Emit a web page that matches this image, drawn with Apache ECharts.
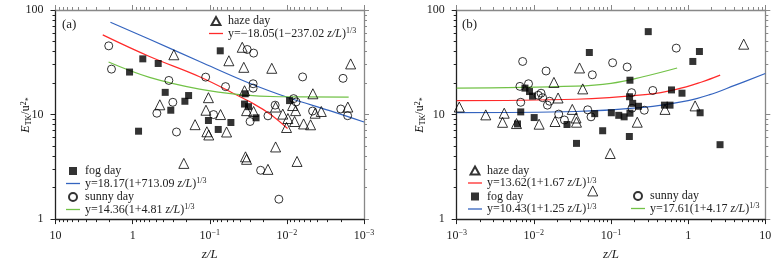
<!DOCTYPE html>
<html>
<head>
<meta charset="utf-8">
<script src="https://cdn.jsdelivr.net/npm/echarts@6/dist/echarts.min.js"></script>
<style>
html,body{margin:0;padding:0;background:#fff;}
#main{width:776px;height:266px;}
</style>
</head>
<body>
<div id="main"></div>
<script>
// panel (a): unstable side, x axis runs 10 -> 10^-3 (values are |z/L|)
var hazeA = [[0.292,37.3],[0.444,12.4],[0.155,8.0],[0.217,3.41],[0.0565,32.7],[0.0379,44.0],[0.0362,28.3],[0.104,14.5],
  [0.0354,16.9],[0.112,11.0],[0.0724,10.0],[0.109,6.84],[0.103,6.38],[0.0605,6.81],[0.0333,10.9],[0.027,10.7],
  [0.0344,3.94],[0.0333,3.73],[0.0157,27.7],[0.00149,30.5],[0.0046,15.8],[0.014,11.8],[0.00843,12.2],[0.0077,10.9],
  [0.0113,10.1],[0.0097,9.16],[0.00794,8.58],[0.00607,8.13],[0.00493,7.98],[0.0101,7.52],[0.014,4.9],[0.0043,10.3],
  [0.00358,10.7],[0.00162,11.8],[0.00738,3.56],[0.0176,2.99]];
var fogA = [[0.738,34.1],[0.466,30.8],[1.096,25.5],[0.378,16.3],[0.188,15.2],[0.210,13.4],[0.320,11.0],[0.838,6.93],
  [0.0731,40.7],[0.0347,15.8],[0.0354,12.6],[0.0314,11.9],[0.0251,9.31],[0.104,8.77],[0.0776,7.2],[0.0532,8.39],[0.00923,13.6]];
var sunnyA = [[2.04,45.4],[1.88,27.2],[0.339,21.2],[0.301,13.1],[0.485,10.3],[0.270,6.81],[0.0327,41.9],[0.0270,38.7],
  [0.113,22.8],[0.0624,18.5],[0.0274,19.7],[0.0274,17.9],[0.0893,10.0],[0.030,8.58],[0.00818,14.2],[0.0076,13.2],
  [0.00625,22.9],[0.00187,22.2],[0.0142,12.3],[0.0176,9.72],[0.00464,10.8],[0.002,11.3],[0.00163,9.75],[0.0219,2.93],[0.0127,1.55]];
var fitRedA = [[2.44,57.8],[0.604,35.9],[0.1355,23.0],[0.0411,14.9],[0.0305,13.3],[0.0168,10.2],[0.0098,7.36]];
var fitBlueA = [[1.94,76.3],[0.604,52.5],[0.1355,32.2],[0.0305,19.95],[0.00923,14.4],[0.00279,10.9],[0.001,8.48]];
var fitGreenA = [[2.05,31.8],[0.604,22.7],[0.1355,17.5],[0.0411,15.5],[0.01245,14.8],[0.00158,14.7]];

// panel (b): stable side, x axis 10^-3 -> 10
var hazeB = [[0.00108,11.8],[0.00238,9.93],[0.00413,10.3],[0.00393,8.43],[0.00596,8.2],[0.0117,8.09],[0.0182,20.3],
  [0.0206,14.4],[0.0188,8.58],[0.0315,11.2],[0.0352,9.27],[0.0357,8.45],[0.0391,27.9],[0.043,17.6],[0.219,8.45],
  [0.501,11.2],[1.23,12.1],[5.25,47.1],[0.0977,4.24],[0.058,1.86]];
var fogB = [[0.0524,39.2],[0.304,62.1],[1.40,40.1],[1.15,32.2],[0.176,21.3],[0.608,17.2],[0.832,16.0],[0.00767,17.9],
  [0.00879,16.6],[0.00962,15.0],[0.174,14.8],[0.191,12.8],[0.227,12.0],[0.493,12.3],[0.582,12.3],[1.43,10.4],
  [0.101,10.4],[0.126,9.83],[0.148,9.51],[0.176,10.3],[0.0615,10.2],[0.00676,10.6],[0.00614,8.13],[0.0101,9.36],
  [0.0269,8.03],[0.078,7.0],[0.173,6.17],[0.0357,5.3],[2.59,5.15]];
var sunnyB = [[0.00716,32.2],[0.0144,26.1],[0.0573,24.0],[0.105,31.3],[0.162,28.5],[0.701,43.2],[0.0066,18.6],
  [0.00853,19.7],[0.0124,16.0],[0.0114,15.3],[0.013,14.5],[0.016,13.4],[0.015,12.3],[0.00676,13.1],[0.021,10.1],
  [0.0249,8.87],[0.0499,11.1],[0.0551,9.51],[0.185,16.2],[0.348,17.0],[0.187,11.5],[0.270,11.0]];
var fitRedB = [[0.001,13.6],[0.035,14.0],[0.3,15.6],[0.7,17.4],[1.5,20.5],[2.6,23.8]];
var fitBlueB = [[0.001,10.45],[0.035,10.7],[0.26,11.7],[1,13.6],[1.86,15.4],[4,19.0],[10,24.7]];
var fitGreenB = [[0.001,17.9],[0.035,18.7],[0.1,19.9],[0.26,23.0],[0.72,27.9]];

// legend texts
var nameRedA = 'y=−18.05(1−237.02 z/L)^1/3';
var nameBlueA = 'y=18.17(1+713.09 z/L)^1/3';
var nameGreenA = 'y=14.36(1+4.81 z/L)^1/3';
var nameRedB = 'y=13.62(1+1.67 z/L)^1/3';
var nameBlueB = 'y=10.43(1+1.25 z/L)^1/3';
var nameGreenB = 'y=17.61(1+4.17 z/L)^1/3';

// minor ticks 2..9 in each decade
var minorX = [], minorY = [];
for (var e = -3; e <= 0; e++) {
  for (var k = 2; k <= 9; k++) {
    minorX.push(+(k * Math.pow(10, e)).toPrecision(3));
    if (e >= 0) minorY.push(k * Math.pow(10, e));
  }
}
for (var k2 = 2; k2 <= 9; k2++) minorY.push(k2 * 10);

var FONT = '"Liberation Serif", "Times New Roman", serif';
var BLUE = '#3464bf', RED = '#ff2a2a', GREEN = '#72c247';
var ICONS = {
  line: 'path://M0,0 L14,0 L14,1.3 L0,1.3 Z',
  'haze day': 'path://M5,0 L10,9 L0,9 Z',
  'fog day': 'path://M0,0 L8,0 L8,8 L0,8 Z',
  'sunny day': 'path://M0,4 A4,4 0 1,1 8,4 A4,4 0 1,1 0,4 Z'
};

var myChart = echarts.init(document.getElementById('main'));

var richTxt = {
  t: {fontFamily: FONT, fontSize: 12, color: '#222', lineHeight: 13},
  i: {fontFamily: FONT, fontSize: 12, color: '#222', fontStyle: 'italic', lineHeight: 13},
  s: {fontFamily: FONT, fontSize: 8, color: '#222', verticalAlign: 'top', lineHeight: 13, padding: [0, 0, 6, 0]},
  sb: {fontFamily: FONT, fontSize: 8, color: '#222', verticalAlign: 'bottom', lineHeight: 13, padding: [5, 0, 0, 0]}
};

function legendText(name) {
  if (name.indexOf('z/L') < 0) return '{t|' + name + '}';
  var p = name.split('z/L');
  var tail = p[1].split('^');
  return '{t|' + p[0] + '}{i|z/L}{t|' + tail[0] + '}{s|' + tail[1] + '}';
}

function tickLabel(v) {
  var e = Math.round(Math.log(v) / Math.LN10);
  if (e === 1) return '{t|10}';
  if (e === 0) return '{t|1}';
  if (e === 2) return '{t|100}';
  return '{t|10}{s|−' + (-e) + '}';
}

function xAxis(grid, inverse, pos, minor) {
  var main = pos === 'bottom' && !minor;
  var col = pos === 'bottom' ? '#222' : '#888';
  var ax = {
    type: 'log', logBase: 10, gridIndex: grid, position: pos, min: 0.001, max: 10, inverse: inverse,
    axisLine: {show: !minor, onZero: false, lineStyle: {color: col, width: 1.3}},
    axisTick: {show: true, inside: false, length: minor ? 3 : 5, lineStyle: {color: col}},
    axisLabel: {show: main, margin: 10, formatter: tickLabel, rich: richTxt},
    splitLine: {show: false},
    name: main ? 'z/L' : '', nameLocation: 'middle', nameGap: 28,
    nameTextStyle: {fontFamily: FONT, fontSize: 13, fontStyle: 'italic', color: '#222'}
  };
  if (minor) ax.axisTick.customValues = minorX;
  return ax;
}

function yAxis(grid, pos, minor) {
  var main = pos === 'left' && !minor;
  var col = pos === 'left' ? '#222' : '#888';
  var ax = {
    type: 'log', logBase: 10, gridIndex: grid, position: pos, min: 1, max: 100,
    axisLine: {show: !minor, onZero: false, lineStyle: {color: col, width: 1.3}},
    axisTick: {show: true, inside: false, length: minor ? 3 : 5, lineStyle: {color: col}},
    axisLabel: {show: main, margin: 12, formatter: tickLabel, rich: richTxt},
    splitLine: {show: false}
  };
  if (minor) ax.axisTick.customValues = minorY;
  return ax;
}

function fitLine(name, data, color, xi) {
  return {type: 'line', name: name, data: data, xAxisIndex: xi, yAxisIndex: xi, smooth: 0.4,
    symbol: 'none', lineStyle: {color: color, width: 1.2}, itemStyle: {color: color}, z: 2};
}
function pts(name, data, xi) {
  var st;
  if (name === 'fog day') st = {symbol: 'rect', symbolSize: 7, itemStyle: {color: '#000'}};
  else if (name === 'haze day') st = {symbol: 'triangle', symbolSize: 10, itemStyle: {color: 'rgba(255,255,255,0)', borderColor: '#000', borderWidth: 1}};
  else st = {symbol: 'circle', symbolSize: 8, itemStyle: {color: 'rgba(255,255,255,0)', borderColor: '#000', borderWidth: 1}};
  return Object.assign({type: 'scatter', name: name, data: data, xAxisIndex: xi, yAxisIndex: xi, z: 3}, st);
}

function legend(items, left, top) {
  var data = items.map(function (n) {
    return {name: n, icon: n.indexOf('z/L') >= 0 ? ICONS.line : ICONS[n]};
  });
  return {data: data, left: left, top: top, orient: 'vertical', padding: 0, itemGap: 0,
    itemWidth: 14, itemHeight: 8, selectedMode: false, formatter: legendText, symbolKeepAspect: true,
    textStyle: {rich: richTxt}};
}

// y axis title, rotated to read bottom-up
function yTitle(x) {
  return {type: 'text', x: x, y: 115, rotation: Math.PI / 2,
    style: {text: '{i|E}{sb|TK}{t|/u}{s|2}{sb|*}', rich: richTxt, align: 'center', verticalAlign: 'middle'}};
}

var option = {
  animation: false,
  title: [
    {text: '(a)', left: 62, top: 18, padding: 0, textStyle: {fontFamily: FONT, fontSize: 13, fontWeight: 'normal', color: '#222'}},
    {text: '(b)', left: 462, top: 18, padding: 0, textStyle: {fontFamily: FONT, fontSize: 13, fontWeight: 'normal', color: '#222'}}
  ],
  graphic: [yTitle(26), yTitle(420)],
  grid: [
    {left: 55.5, top: 10, width: 308.5, height: 210},
    {left: 456.7, top: 10, width: 308.6, height: 210}
  ],
  // 0,1 main bottom; 2,3 top; 4,5 bottom minor; 6,7 top minor
  xAxis: [xAxis(0, true, 'bottom'), xAxis(1, false, 'bottom'), xAxis(0, true, 'top'), xAxis(1, false, 'top'),
    xAxis(0, true, 'bottom', true), xAxis(1, false, 'bottom', true), xAxis(0, true, 'top', true), xAxis(1, false, 'top', true)],
  yAxis: [yAxis(0, 'left'), yAxis(1, 'left'), yAxis(0, 'right'), yAxis(1, 'right'),
    yAxis(0, 'left', true), yAxis(1, 'left', true), yAxis(0, 'right', true), yAxis(1, 'right', true)],
  legend: [
    legend(['haze day', nameRedA], 209, 15),
    legend(['fog day', nameBlueA, 'sunny day', nameGreenA], 66, 165),
    legend(['haze day', nameRedB, 'fog day', nameBlueB], 468, 164.5),
    legend(['sunny day', nameGreenB], 631, 190)
  ],
  series: [
    fitLine(nameBlueA, fitBlueA, BLUE, 0),
    fitLine(nameRedA, fitRedA, RED, 0),
    fitLine(nameGreenA, fitGreenA, GREEN, 0),
    pts('haze day', hazeA, 0),
    pts('fog day', fogA, 0),
    pts('sunny day', sunnyA, 0),
    fitLine(nameBlueB, fitBlueB, BLUE, 1),
    fitLine(nameRedB, fitRedB, RED, 1),
    fitLine(nameGreenB, fitGreenB, GREEN, 1),
    pts('haze day', hazeB, 1),
    pts('fog day', fogB, 1),
    pts('sunny day', sunnyB, 1)
  ]
};

myChart.setOption(option);
window.addEventListener('resize', function () {
  myChart.resize();
});
</script>
</body>
</html>
